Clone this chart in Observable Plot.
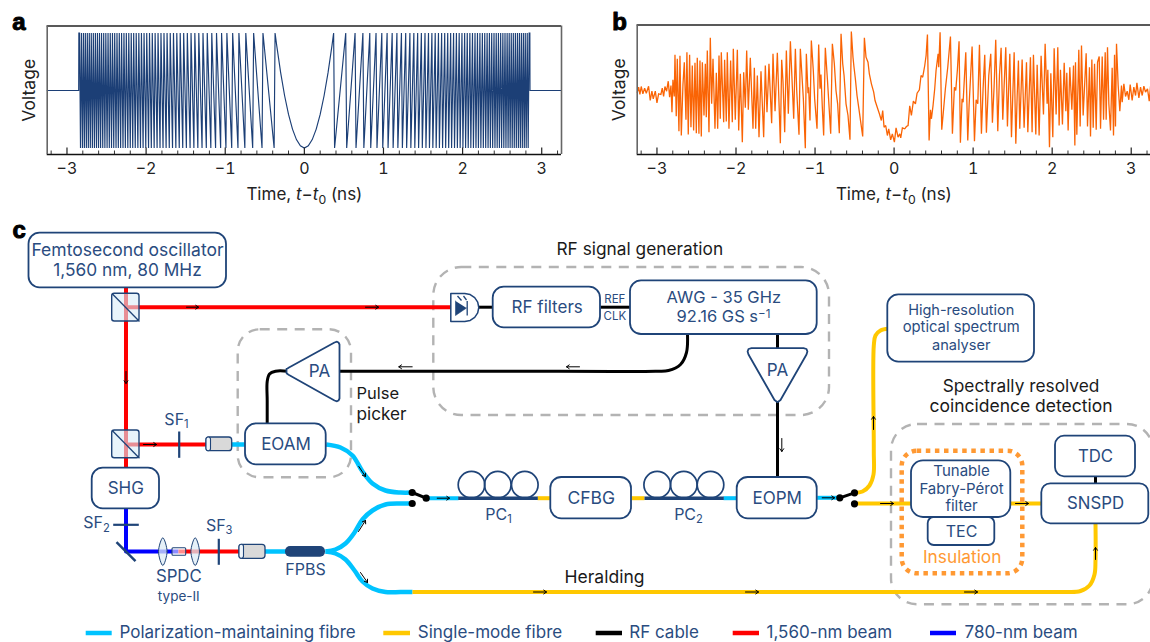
<!DOCTYPE html>
<html><head><meta charset="utf-8">
<style>
html,body{margin:0;padding:0;background:#fff;overflow:hidden}
#page{position:relative;width:1150px;height:642px;overflow:hidden}
#page svg{position:absolute;background:transparent;overflow:hidden}
</style>
<script src="https://cdn.jsdelivr.net/npm/d3@7"></script>
<script src="https://cdn.jsdelivr.net/npm/@observablehq/plot@0.6"></script>
</head><body><div id="page"></div>
<script>
// ---------- panel a: programmed waveform, wrapped quadratic phase ----------
const majorTicks = [-3,-2,-1,0,1,2,3];
const minorTicks = [-3.2,-2.8,-2.6,-2.4,-2.2,-1.8,-1.6,-1.4,-1.2,-0.8,-0.6,-0.4,-0.2,0.2,0.4,0.6,0.8,1.2,1.4,1.6,1.8,2.2,2.4,2.6,2.8,3.2];
const parabolaT = [0,0.05,0.1,0.15,0.2,0.25,0.3,0.35];
const parabolaV = [-1,-0.963,-0.854,-0.671,-0.416,-0.087,0.315,0.79];
const wrapTimes = [0.37,0.523,0.641,0.74,0.827,0.906,0.979,1.046,1.11,1.17,1.227,1.281,1.334,1.384,1.432,1.479,1.525,1.569,1.612,1.654,1.695,1.735,1.774,1.812,1.849,1.886,1.922,1.957,1.992,2.026,2.059,2.092,2.125,2.157,2.188,2.219,2.25,2.28,2.31,2.339,2.368,2.397,2.425,2.453,2.481,2.509,2.536,2.563,2.589,2.615,2.641,2.667,2.693,2.718,2.743,2.768,2.792,2.817,2.841];
const wrapFall = 0.012, pulseEnd = 2.85, axisEnd = 3.25;

const measuredT = [-3.249,-3.232,-3.216,-3.199,-3.178,-3.156,-3.135,-3.106,-3.085,-3.064,-3.047,-3.021,-3,-2.979,-2.95,-2.933,-2.916,-2.899,-2.878,-2.857,-2.84,-2.823,-2.81,-2.798,-2.781,-2.772,-2.756,-2.743,-2.722,-2.709,-2.692,-2.671,-2.654,-2.633,-2.621,-2.604,-2.587,-2.57,-2.553,-2.536,-2.519,-2.502,-2.49,-2.469,-2.456,-2.439,-2.426,-2.405,-2.388,-2.376,-2.363,-2.342,-2.325,-2.308,-2.291,-2.266,-2.249,-2.232,-2.215,-2.199,-2.186,-2.156,-2.144,-2.123,-2.11,-2.089,-2.068,-2.047,-2.034,-2.009,-1.983,-1.966,-1.945,-1.92,-1.903,-1.882,-1.865,-1.844,-1.819,-1.785,-1.768,-1.751,-1.73,-1.709,-1.684,-1.65,-1.629,-1.608,-1.583,-1.549,-1.532,-1.506,-1.477,-1.439,-1.422,-1.405,-1.384,-1.363,-1.338,-1.312,-1.287,-1.27,-1.249,-1.232,-1.203,-1.186,-1.148,-1.123,-1.11,-1.089,-1.081,-1.064,-1.047,-1.022,-1.005,-0.975,-0.954,-0.937,-0.925,-0.908,-0.891,-0.87,-0.844,-0.802,-0.781,-0.756,-0.735,-0.714,-0.693,-0.671,-0.65,-0.633,-0.608,-0.583,-0.558,-0.541,-0.52,-0.507,-0.49,-0.469,-0.448,-0.422,-0.397,-0.376,-0.355,-0.33,-0.313,-0.287,-0.258,-0.241,-0.207,-0.186,-0.161,-0.144,-0.127,-0.106,-0.085,-0.068,-0.043,-0.022,0.004,0.025,0.05,0.071,0.084,0.105,0.135,0.156,0.177,0.198,0.219,0.244,0.27,0.291,0.32,0.341,0.362,0.388,0.405,0.422,0.443,0.46,0.472,0.493,0.514,0.531,0.557,0.565,0.582,0.603,0.628,0.649,0.679,0.713,0.738,0.763,0.78,0.801,0.822,0.839,0.86,0.873,0.907,0.932,0.949,0.987,1.017,1.038,1.059,1.08,1.105,1.126,1.147,1.168,1.198,1.223,1.244,1.265,1.286,1.312,1.333,1.354,1.375,1.392,1.413,1.434,1.464,1.485,1.519,1.54,1.557,1.573,1.59,1.62,1.645,1.675,1.692,1.725,1.746,1.763,1.793,1.81,1.835,1.86,1.89,1.911,1.936,1.945,1.966,1.983,2.008,2.025,2.05,2.071,2.088,2.105,2.13,2.152,2.173,2.185,2.202,2.223,2.249,2.27,2.287,2.295,2.312,2.337,2.354,2.371,2.392,2.43,2.447,2.472,2.485,2.502,2.519,2.536,2.557,2.574,2.595,2.612,2.633,2.65,2.671,2.683,2.7,2.717,2.738,2.759,2.776,2.789,2.801,2.814,2.835,2.856,2.877,2.886,2.907,2.928,2.949,2.97,2.987,3.012,3.033,3.055,3.072,3.097,3.118,3.139,3.16,3.181,3.206,3.228,3.244];
const measuredV = [-2,3.3,-4,4,-3.3,2.3,-2.7,4.3,-10,-0.7,-8.3,-0.7,-12.3,-3.3,-4,2.3,-6,4,-0.7,9.3,-6.7,5,-21.7,10.7,-6,35.7,-25.7,31.7,-40.7,34.7,-45,6,28.3,-29.3,38.3,-44,35.7,-36.7,25,-40,27.7,-42.7,32.7,-43.3,30,-46,28.3,-25,26.7,-26.7,40,-41.7,52.7,-13.3,31.7,-38.3,17.7,-38.3,35,-28.3,38.3,-31.7,30.7,-31,38.3,-38.3,30,-31.7,41.7,-29.3,40.7,-40,16.7,-51.7,18.3,-17.3,40,-19.3,32.7,-38.3,22.7,-38.3,15,-46.7,19.3,-46.7,25,-21.7,26.7,-32.7,36.7,-20.7,37.7,-52.7,30.7,8.3,-41.7,40,-23.3,49.3,3.3,-28.3,41.7,0,-44.3,41.7,-8.3,-57.7,36.7,-2.7,3.3,-30,50,20,-8.3,-38.3,46,1.7,16,-16.7,-45,42.7,11.7,-43.3,46.7,26.7,0,-13.3,-42.7,56.7,26.7,15,-13.3,-25,-49.3,59,33.3,23.3,11.7,-5,-16.7,-31.7,-46,52.7,33.3,28.3,16.7,6.7,-1.7,-10,-18.3,-23.3,-30,-20,-36.7,-35,-45,-38.3,-49.3,-43.3,-51.7,-37.3,-46.7,-43.3,-47.3,-37.3,-38.3,-36,-35,-15.3,-25,-10.7,-13.3,-2.7,0.7,15,13.3,25,35,56,-50,-19.3,-28.3,-15,1.7,20,36.7,23.3,58.3,-39.3,-17.3,1.7,23.3,54,-43.3,3.3,0,20.7,49.3,-52.3,-8.3,-11.7,38.3,-50,-15,44,-50.7,-9.3,-13.3,45.7,-43.3,1.7,35.7,-42.3,15,36.7,-32.3,3.3,50.7,-40.7,15,42.7,-29.3,4,43.3,-36,36.7,-46.7,38.3,-53.3,-6,30,-38.3,31,-37.3,28.3,-41.7,33.3,-41.7,35.7,-44,25.7,-45,34.7,-24,46.7,-13.3,20.7,-56.7,17.3,-46.7,42.3,-24,43.3,-35,20.7,-34,27.7,-20.7,17.7,-40,23.3,-19.3,25,-55,28.3,-44.3,40.7,-36,45,-25,37.3,-36,23.3,-46,31,-37.3,26.7,-39.3,28.3,34,-38.3,34,-29.3,38.3,-29.3,43.3,-13.3,-40,22.7,-45,35.7,-36,46.7,5,-20.7,5,-11.7,6.7,-6,-0.7,-9.3,6,-10,3.3,-5,7.7,-7.3,3.3,-5,4.3,-1.7,1.7,-10.7,4];

// ---------- panel c: diagram contents (diagram units) ----------
const boxNames  = ["Femtosecond","EOAM","SHG","RF filters","AWG","CFBG","EOPM","OSA","Filter","TEC","SNSPD","TDC"];
const boxLeft   = [28.5,245,91.7,492.7,630,550.3,736.7,887.3,911,927.7,1041.3,1055];
const boxRight  = [226,325.7,159,600,816.7,631,816.7,1034,1010.3,994.3,1148.3,1135];
const boxTop    = [232.7,423.3,467.7,286.7,280.3,477,477,294.3,460.3,517,483.3,435.7];
const boxBottom = [287.3,464.3,508.3,327.3,334,518.3,518.3,361.7,517,545,523.3,476.3];

const dashedLeft=[433.3,237.7,891], dashedRight=[829,351,1153], dashedTop=[267,329.3,424], dashedBottom=[415,477.3,604.3], dashedRound=[28,22,26];

const navyLabels = [
 ["Femtosecond oscillator",127,250,17.5],["1,560 nm, 80 MHz",127,270,17.3],["EOAM",285.5,444,17],["SHG",125.3,488,17],
 ["PA",319,371,17],["PA",777,370,17],["RF filters",546.7,306.7,17],["AWG - 35 GHz",723.3,297.3,16.5],["92.16 GS s^−1",723,316.7,16.5],
 ["REF",614.3,299,11.5],["CLK",614.3,315.7,11.5],["SF_1",176,419,16],["SF_2",96,522.7,16],["SF_3",218.7,525,16],
 ["SPDC",178.3,575.7,16.8],["type-II",178.3,596.3,13.5],["FPBS",305,569,16],["PC_1",498,514,16],["PC_2",688,514,16],
 ["CFBG",590.7,497.5,17.5],["EOPM",776.7,497.7,17],["High-resolution",960.7,310,14.5],["optical spectrum",960.7,327,14.8],["analyser",960.7,345,14.6],
 ["Tunable",961,471,15],["Fabry-Pérot",961,488.3,15],["filter",961,506,15],["TEC",961,531,16],["SNSPD",1095,503,16.8],["TDC",1095,456,16.8]
];
const blackLabels = [
 ["RF signal generation",639.3,249.3,17.3,"middle"],["Pulse",356,393,16.5,"start"],["picker",356,414,17.2,"start"],
 ["Spectrally resolved",1020.5,386,17.3,"middle"],["coincidence detection",1020.5,406,17.5,"middle"],["Heralding",604,576.7,17.5,"middle"]
];
const legendNames = ["Polarization-maintaining fibre","Single-mode fibre","RF cable","1,560-nm beam","780-nm beam"];
const legendColors = ["#00c3ff","#ffc800","#000000","#ff0000","#0000ff"];
const legendLineStart = [85.7,383.3,595.7,732.7,930];
const legendLineEnd = [111.7,410,622,759,956];
const legendTextStart = [119,417.3,628.7,766,964];

const cyan="#00c3ff", yellow="#ffc800", red="#ff0000", blue="#0000ff", black="#000", navy="#1f4478", navyText="#2a4c80", grey="#b3b3b3", orange="#ff9933";

const fibres = [
 {c:red,  w:4, p:[[125.5,287],[125.5,467.7]]},
 {c:red,  w:4, p:[[125.5,306.7],[451,306.7]]},
 {c:red,  w:4, p:[[125.5,444],[207,444]]},
 {c:blue, w:4, p:[[125.5,508],[125.5,551],[178,551]]},
 {c:red,  w:4, p:[[178,551],[239,551]]},
 {c:cyan, w:4.5, p:[[231,444],[246,444]]},
 {c:cyan, w:4.5, p:[[264,551],[286,551]]},
 {c:cyan, w:4.5, curve:true, p:[[325.7,444],[340,447],[352,455],[362,471],[372,483],[385,490],[400,492],[411.7,492]]},
 {c:cyan, w:4.5, curve:true, p:[[325,551],[335,549],[345,543],[354,532],[362,519],[372,510],[385,504],[400,503],[411.7,503]]},
 {c:cyan, w:4.5, curve:true, p:[[325,551],[335,553],[345,559],[354,570],[362,581],[372,588],[385,591.5],[400,591.5],[412,591.5]]},
 {c:cyan, w:4, p:[[425.7,497.7],[458,497.7]]},
 {c:yellow,w:4,p:[[537,497.7],[551,497.7]]},
 {c:yellow,w:4,p:[[631,497.7],[644,497.7]]},
 {c:cyan, w:4, p:[[723,497.7],[737,497.7]]},
 {c:cyan, w:4, p:[[816.7,497.3],[839.3,497.3]]},
 {c:yellow,w:4,curve:true,p:[[854,492.3],[862,491],[869,485],[873,474],[873.3,450],[873.3,345],[875,335],[880,330],[888,328.3]]},
 {c:yellow,w:4,p:[[854,503],[912,503]]},
 {c:yellow,w:4,p:[[1010,503],[1042,503]]},
 {c:yellow,w:4,p:[[412,591.5],[1073,591.5]]},
 {c:yellow,w:4,curve:true,p:[[1070,591.5],[1080,590.5],[1089,585],[1094,574],[1095,560],[1095,523]]},
 {c:black,w:3,p:[[478,306.7],[493,306.7]]},
 {c:black,w:3,p:[[600,306.7],[630,306.7]]},
 {c:black,w:3,p:[[777,334],[777,348]]},
 {c:black,w:3,p:[[777,401],[777,477]]},
 {c:black,w:3,p:[[1095,476],[1095,484]]},
 {c:black,w:3,curve:true,p:[[339,370.7],[500,370.7],[655,370.7],[668,370],[680,364],[686,352],[687,334]]},
 {c:black,w:3,curve:true,p:[[287,370.7],[275,370.7],[269,373.5],[266.7,381],[266.7,400],[266.7,423.5]]}
];
const arrowFrom = [[186,306.7],[365,306.7],[125.5,371],[143,444],[358.3,466],[358,531],[360,572],[436.7,497.7],[533,591.5],[745,591.5],[964,591.5],[1095,559],[873,429],[781.3,438],[411.7,366.3],[579,366.3],[821.7,497.3],[880,503],[1015,503]];
const arrowTo   = [[198,306.7],[378,306.7],[125.5,383],[156,444],[365,476],[365,520],[367,582],[449,497.7],[546,591.5],[758,591.5],[977,591.5],[1095,547],[873,416],[781.3,451],[398.3,366.3],[566,366.3],[834,497.3],[893,503],[1028,503]];

const splitterLeft=[111.7,111.7], splitterRight=[139,139], splitterTop=[293.3,430], splitterBottom=[321,457.7];
const filterBars = [[178.7,431,178.7,457.3],[112.7,524.3,138.3,524.3],[218.3,538.3,218.3,564.3]];
const collimatorLeft=[206,239], collimatorRight=[231.7,265], collimatorTop=[437,544.3], collimatorBottom=[450.7,558.3];
const coilX=[471,497.3,524.3,656.7,683.3,710], coilY=484.2;
const coilBars=[[457.7,537.3],[644,723.3]];
const switchDots=[[411.7,492],[411.7,503],[425.7,497.7],[839.3,497.3],[854,492.3],[854,503.3]];
const switchArms=[[[411.7,492],[425.7,497.7]],[[839.3,497.3],[854,492.3]]];
const ampLeft=[[286,368.5],[287,368],[288.5,367],[334,342],[336.5,341.2],[338,342],[339,344],[339,398],[338,400],[336.5,400.8],[334,400],[288.5,374.5],[287,373.5],[286,372.5],[286,368.5]];
const ampDown=[[751,347.7],[803,347.7],[806,348.5],[806.9,351],[806,354],[780,399.5],[777,401.7],[774,399.5],[748,354],[747.1,351],[748,348.5],[751,347.7]];
const diodeBody=[[450.3,293],[464.3,293],[469.7,294.1],[474.2,297.1],[477.2,301.6],[478.3,307],[477.2,312.4],[474.2,316.9],[469.7,319.9],[464.3,321],[450.3,321],[450.3,293]];
const diodeTriangle=[[455,300.5],[455,315],[466,307.5]];
const lens1=[[162.3,537.3],[166.6,551],[162.3,565],[158,551]];
const lens2=[[194.7,537.3],[199,551],[194.7,565],[190.4,551]];

// ---------- helpers ----------
const F = '"Inter","Noto Sans",sans-serif';
const X=d=>d[0], Y=d=>d[1];
const poly=(p,o)=>Plot.line(p,{x:X,y:Y,...o});

function sawtooth(){
  const pos=[];
  parabolaT.forEach((t,i)=>pos.push([t,parabolaV[i]]));
  wrapTimes.forEach(t=>{pos.push([t,1]); if(t<wrapTimes[wrapTimes.length-1]) pos.push([t+wrapFall,-1]);});
  pos.push([pulseEnd,1],[pulseEnd+0.002,0],[axisEnd,0]);
  const neg=pos.slice(1).map(([t,v])=>[-t,v]).reverse();
  return neg.concat(pos);
}
function timePanel(cfg){
  const [yb,yt]=cfg.yDomain, u=(yt-yb)/(cfg.height-cfg.marginTop-cfg.marginBottom);
  return Plot.plot({
    width:cfg.width,height:cfg.height,marginLeft:cfg.marginLeft,marginRight:cfg.marginRight,marginTop:cfg.marginTop,marginBottom:cfg.marginBottom,
    style:{fontFamily:F,background:"transparent",overflow:"hidden"},
    x:{domain:cfg.xDomain,axis:null},y:{domain:cfg.yDomain,axis:null},
    marks:[
      poly(cfg.data,{stroke:cfg.color,strokeWidth:cfg.lineWidth,strokeLinejoin:"miter",strokeMiterlimit:2}),
      Plot.ruleX(majorTicks,{y1:yb,y2:yb+6.5*u,stroke:"#222",strokeWidth:1.2}),
      Plot.ruleX(minorTicks,{y1:yb,y2:yb+3.5*u,stroke:"#333",strokeWidth:1}),
      Plot.ruleY([yt],{stroke:"#222",strokeWidth:1.3}),
      Plot.ruleY([yb],{stroke:"#111",strokeWidth:1.5}),
      Plot.ruleX(cfg.sideRules,{stroke:"#666",strokeWidth:1.6}),
      Plot.axisX(majorTicks,{anchor:"bottom",tickSize:0,tickPadding:8,fontSize:16,label:null,color:"#222"}),
      Plot.text(["Voltage"],{frameAnchor:"left",textAnchor:"middle",rotate:-90,dx:-18,fontSize:17.5,fill:"#222"}),
      Plot.text(["Time, t−t0 (ns)"],{frameAnchor:"bottom",dy:40,lineAnchor:"middle",fontSize:17,fill:"#222"}),
      Plot.text([cfg.letter],{frameAnchor:"top-left",dx:cfg.letterDx,dy:cfg.letterDy,textAnchor:"start",lineAnchor:"middle",fontSize:24,fontWeight:900,stroke:"#000",strokeWidth:1,fill:"#000",fontFamily:'"Liberation Sans",sans-serif'})
    ]
  });
}
function diagram(){
  const rows=(a,...k)=>a.map((_,i)=>Object.fromEntries(k.map(([n,v])=>[n,v[i]])));
  const boxes=rows(boxNames,["x1",boxLeft],["x2",boxRight],["y1",boxTop],["y2",boxBottom]);
  const dash=rows(dashedLeft,["x1",dashedLeft],["x2",dashedRight],["y1",dashedTop],["y2",dashedBottom],["r",dashedRound]);
  const legend=rows(legendNames,["t",legendNames],["c",legendColors],["a",legendLineStart],["b",legendLineEnd],["s",legendTextStart]);
  const dashMarks=dash.map(d=>Plot.rect([d],{x1:"x1",x2:"x2",y1:"y1",y2:"y2",rx:d.r,stroke:grey,strokeWidth:2.4,strokeDasharray:"10 7.5",fill:"none"}));
  return Plot.plot({
    width:1150,height:427,margin:0,
    style:{fontFamily:F,background:"transparent",overflow:"hidden"},
    x:{domain:[0,1150],range:[0,1150],axis:null},y:{domain:[215,642],range:[0,427],axis:null},
    color:{type:"identity"},
    marks:[
      ...dashMarks,
      ...fibres.map(f=>poly(f.p,{stroke:f.c,strokeWidth:f.w,strokeLinecap:"butt",curve:f.curve?"catmull-rom":"linear"})),
      Plot.arrow(arrowFrom.map((a,i)=>[a,arrowTo[i]]),{x1:d=>d[0][0],y1:d=>d[0][1],x2:d=>d[1][0],y2:d=>d[1][1],bend:0,headLength:5,headAngle:70,stroke:"#000",strokeWidth:1,inset:0}),
      Plot.rect(splitterLeft.map((l,i)=>i),{x1:i=>splitterLeft[i],x2:i=>splitterRight[i],y1:i=>splitterTop[i],y2:i=>splitterBottom[i],rx:2.5,fill:"#d9edf9",fillOpacity:0.6,stroke:navy,strokeWidth:1.4}),
      Plot.link(splitterLeft.map((l,i)=>i),{x1:i=>splitterLeft[i],x2:i=>splitterRight[i],y1:i=>splitterTop[i],y2:i=>splitterBottom[i],stroke:navy,strokeWidth:1.3}),
      Plot.link(filterBars,{x1:d=>d[0],y1:d=>d[1],x2:d=>d[2],y2:d=>d[3],stroke:navy,strokeWidth:2.2}),
      Plot.link([[116,541.7,135,560.7]],{x1:d=>d[0],y1:d=>d[1],x2:d=>d[2],y2:d=>d[3],stroke:navy,strokeWidth:2.5}),
      Plot.rect(collimatorLeft.map((l,i)=>i),{x1:i=>collimatorLeft[i],x2:i=>collimatorRight[i],y1:i=>collimatorTop[i],y2:i=>collimatorBottom[i],rx:3,fill:"#d9d9d9",stroke:navy,strokeWidth:1.3}),
      Plot.rect(collimatorLeft.map((l,i)=>i),{x1:i=>collimatorLeft[i],x2:i=>collimatorLeft[i]+4.5,y1:i=>collimatorTop[i],y2:i=>collimatorBottom[i],rx:2.2,fill:"#f0f6fb",stroke:navy,strokeWidth:1.1}),
      Plot.rect([0],{x1:172,x2:185.7,y1:547.7,y2:555.3,rx:1,fill:"#fff",fillOpacity:0.55,stroke:navy,strokeWidth:1.1}),
      poly(lens1,{curve:"catmull-rom-closed",fill:"#dcebf6",fillOpacity:0.75,stroke:navy,strokeWidth:1}),
      poly(lens2,{curve:"catmull-rom-closed",fill:"#dcebf6",fillOpacity:0.75,stroke:navy,strokeWidth:1}),
      Plot.rect([0],{x1:285,x2:325,y1:546,y2:556.7,rx:5,fill:navy}),
      Plot.dot(coilX,{x:d=>d,y:coilY,r:13.3,stroke:navy,strokeWidth:1.7,fill:"none"}),
      Plot.link(coilBars,{x1:d=>d[0],x2:d=>d[1],y1:497.7,y2:497.7,stroke:navy,strokeWidth:3.5}),
      ...switchArms.map(a=>poly(a,{stroke:"#000",strokeWidth:3})),
      Plot.dot(switchDots,{x:X,y:Y,r:3.6,fill:"#000"}),
      poly(ampLeft,{stroke:navy,strokeWidth:1.8,fill:"#fff"}),
      poly(ampDown,{stroke:navy,strokeWidth:1.8,fill:"#fff"}),
      poly(diodeBody,{stroke:navy,strokeWidth:1.5,fill:"#fff"}),
      poly(diodeTriangle,{fill:navy,stroke:navy,strokeWidth:0.6}),
      Plot.link([[466.7,300.5,466.7,315],[457,295.5,461,300],[463,295.5,466,299.5]],{x1:d=>d[0],y1:d=>d[1],x2:d=>d[2],y2:d=>d[3],stroke:navy,strokeWidth:1.3}),
      Plot.rect(boxes.slice(0,8),{x1:"x1",x2:"x2",y1:"y1",y2:"y2",rx:11,fill:"#fff",stroke:navy,strokeWidth:1.8}),
      Plot.rect([boxes[10],boxes[11]],{x1:"x1",x2:"x2",y1:"y1",y2:"y2",rx:9,fill:"#fff",stroke:navy,strokeWidth:1.8}),
      Plot.rect([boxes[9]],{x1:"x1",x2:"x2",y1:"y1",y2:"y2",rx:6,fill:"#fff",stroke:navy,strokeWidth:1.8}),
      Plot.rect([boxes[8]],{x1:"x1",x2:"x2",y1:"y1",y2:"y2",rx:12,fill:"#fff",stroke:navy,strokeWidth:1.8}),
      Plot.rect([0],{x1:901.7,x2:1022.3,y1:450.7,y2:573.3,rx:15,stroke:orange,strokeWidth:4.5,strokeDasharray:"4.5 4.6",fill:"none"}),
      Plot.text(navyLabels,{text:d=>d[0],x:d=>d[1],y:d=>d[2],fontSize:d=>d[3],fill:navyText}),
      Plot.text(blackLabels,{text:d=>d[0],x:d=>d[1],y:d=>d[2],fontSize:d=>d[3],textAnchor:"middle",fill:"#1a1a1a",filter:d=>d[4]==="middle"}),
      Plot.text(blackLabels,{text:d=>d[0],x:d=>d[1],y:d=>d[2],fontSize:d=>d[3],textAnchor:"start",fill:"#1a1a1a",filter:d=>d[4]==="start"}),
      Plot.text(["Insulation"],{x:961.7,y:557.3,fontSize:17.3,fill:orange}),
      Plot.ruleY(legend,{y:632.5,x1:"a",x2:"b",stroke:"c",strokeWidth:4.5}),
      Plot.text(legend,{x:"s",y:632.5,text:"t",textAnchor:"start",fontSize:17,fill:navyText}),
      Plot.text(["c"],{x:12,y:230.3,textAnchor:"start",fontSize:24,fontWeight:900,stroke:"#000",strokeWidth:1,fill:"#000",fontFamily:'"Liberation Sans",sans-serif'})
    ]
  });
}
function typeset(svg){
  svg.querySelectorAll("text").forEach(t=>{
    const s=t.textContent;
    if(s.startsWith("Time,")){
      t.innerHTML='Time, <tspan font-style="italic">t</tspan>−<tspan font-style="italic">t</tspan><tspan dy="0.3em" font-size="72%">0</tspan><tspan dy="-0.22em"> (ns)</tspan>';
    } else if(s.includes("_")){
      const [a,b]=s.split("_");
      t.innerHTML=`${a}<tspan dy="0.3em" font-size="70%">${b}</tspan>`;
    } else if(s.includes("^")){
      const [a,b]=s.split("^");
      t.innerHTML=`${a}<tspan dy="-0.4em" font-size="70%">${b}</tspan>`;
    }
  });
}
const place=(svg,left,top)=>{svg.style.left=left+"px";svg.style.top=top+"px";typeset(svg);document.getElementById("page").append(svg);};

place(timePanel({width:590,height:215,marginLeft:46.7,marginRight:29,marginTop:25.5,marginBottom:61,
  xDomain:[-3.25,3.25],yDomain:[-1.113,1.122],data:sawtooth(),color:"#1c3f76",lineWidth:1.15,sideRules:[-3.25,3.25],letter:"a",letterDx:-35,letterDy:-3.2}),0,0);
place(timePanel({width:560,height:215,marginLeft:46.7,marginRight:0,marginTop:24.5,marginBottom:61,
  xDomain:[-3.25,3.244],yDomain:[-64,65.5],data:measuredT.map((t,i)=>[t,measuredV[i]]),color:"#fa6405",lineWidth:1.3,sideRules:[-3.25],letter:"b",letterDx:-25,letterDy:-2.2}),590,0);
place(diagram(),0,215);
</script></body></html>
